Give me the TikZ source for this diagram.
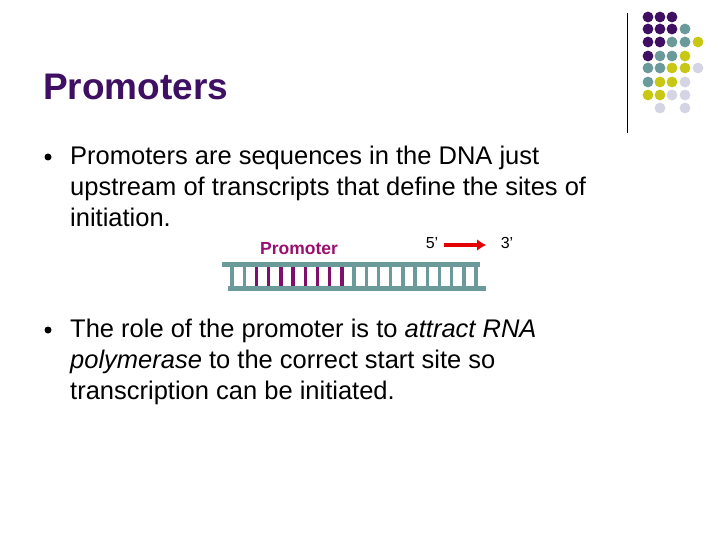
\documentclass[tikz,border=0pt]{standalone}
\usepackage{fontspec}
\usetikzlibrary{arrows.meta}
\setmainfont{Liberation Sans}
\definecolor{pp}{HTML}{3F0F63}
\definecolor{tl}{HTML}{6A9A9A}
\definecolor{yl}{HTML}{C8C814}
\definecolor{lv}{HTML}{D4D4E4}
\definecolor{mg}{HTML}{9A0F6E}
\begin{document}
\begin{tikzpicture}[x=1pt,y=-1pt,
  body/.style={anchor=north west,font=\fontsize{25.5}{31}\selectfont,align=left,inner sep=0pt},
  bul/.style={circle,fill=black,inner sep=0pt,minimum size=7pt}]
\useasboundingbox (0,0) rectangle (720,540);
\node[anchor=base west,inner sep=0,text=pp,font=\fontsize{37}{40}\selectfont\bfseries] (title) at (43,100) {Promoters};
\draw[line width=1pt] (627,13) -- (627,133);
% dots
\def\xs{{648,660,672,685,698}}
\foreach \y/\row in {17/{pp,pp,pp},29/{pp,pp,pp,tl},42/{pp,pp,tl,tl,yl},56/{pp,tl,tl,yl},68/{tl,tl,yl,yl,lv},82/{tl,yl,yl,lv},95/{yl,yl,lv,lv}}{
  \foreach \c [count=\i from 0] in \row {\fill[\c] ({\xs[\i]},\y) circle (5.4);}}
\fill[lv] (660,108) circle (5.4); \fill[lv] (685,108) circle (5.4);
\node[bul] (b1) at (48,157) {};
\node[body] (t1) at (70,146) {Promoters are sequences in the DNA just\\upstream of transcripts that define the sites of\\initiation.};
\node[bul] (b2) at (48,330) {};
\node[body] (t2) at (70,319) {The role of the promoter is to \textit{attract RNA}\\\textit{polymerase} to the correct start site so\\transcription can be initiated.};
% DNA
\foreach \i in {0,...,20}{\draw[tl,line width=3.4pt] ({232+12.2*\i},265) -- ({232+12.2*\i},288);}
\foreach \i in {2,...,9}{\draw[mg!70!pp,line width=3.4pt] ({232+12.2*\i},265) -- ({232+12.2*\i},288);}
\fill[tl] (222,261.5) rectangle (480,266.5);
\fill[tl] (228,286) rectangle (486,291);
\node[text=mg,font=\fontsize{17.5}{20}\selectfont\bfseries] (pl) at (299,249) {Promoter};
\node[font=\fontsize{16}{18}\selectfont] (f5) at (432,243) {5’};
\node[font=\fontsize{16}{18}\selectfont] (f3) at (507,243) {3’};
\draw[red!90!black,line width=4pt,-{Latex[length=9pt,width=12pt]}] (444,245) -- (486,245);
\end{tikzpicture}
\end{document}
